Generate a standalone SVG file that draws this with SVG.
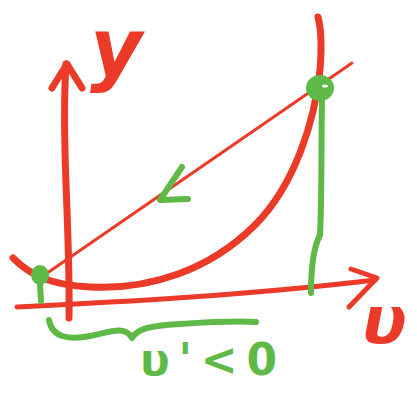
<svg xmlns="http://www.w3.org/2000/svg" width="417" height="393" viewBox="0 0 417 393">
<style>
.r{fill:none;stroke:#EB3A28;stroke-linecap:round;stroke-linejoin:round}
.g{fill:none;stroke:#5EB947;stroke-linecap:round;stroke-linejoin:round}
.lr{fill:#EB3A28;font-family:"DejaVu Sans",sans-serif;font-weight:bold;font-style:italic}
.lg{fill:#5EB947;font-family:"DejaVu Sans",sans-serif;font-weight:bold}
</style>
<rect width="417" height="393" fill="#fff"/>
<g id="connectors">
<path class="r" stroke-width="7" d="M69,318 C70,260 66,200 65,150 C64,110 65,80 66,64"/>
<path class="r" stroke-width="7" d="M52,88 L67,64 L82,88"/>
<path class="r" stroke-width="5" d="M17,307 C120,302 250,295 375,280"/>
<path class="r" stroke-width="5" d="M351,269 L377,278 L349,307"/>
<path class="r" stroke-width="7" d="M13,258 C30,275 50,285 90,287 C150,290 210,270 255,225 C295,185 315,120 320,70 C322,45 321,28 318,17"/>
<path class="r" stroke-width="3" d="M40,278 L352,63"/>
<path class="g" stroke-width="6" d="M322,98 C321,150 322,200 320,235 C312,250 311,275 311,293"/>
<path class="g" stroke-width="6" d="M40,285 L41,301"/>
<path class="g" stroke-width="6" d="M182,167 L160,200 L188,199"/>
<path class="g" stroke-width="6" d="M49,320 C52,338 70,340 90,336 C110,332 125,325 132,338 C138,328 150,326 180,324 C210,322 240,321 256,322"/>
</g>
<g id="pointA">
<ellipse cx="40" cy="275" rx="9" ry="10" fill="#5EB947"/>
</g>
<g id="pointB">
<ellipse cx="320" cy="88" rx="14" ry="13" fill="#5EB947"/>
<ellipse cx="325" cy="86" rx="3" ry="1.5" fill="#fff"/>
</g>
<g id="labelY">
<text class="lr" x="90" y="76" font-size="80">y</text>
</g>
<g id="labelU">
<text class="lr" x="362" y="343" font-size="66">υ</text>
</g>
<g id="labelCond">
<text class="lg" x="140" y="375" font-size="44" textLength="137" lengthAdjust="spacing">υ'&lt;0</text>
</g>
</svg>
